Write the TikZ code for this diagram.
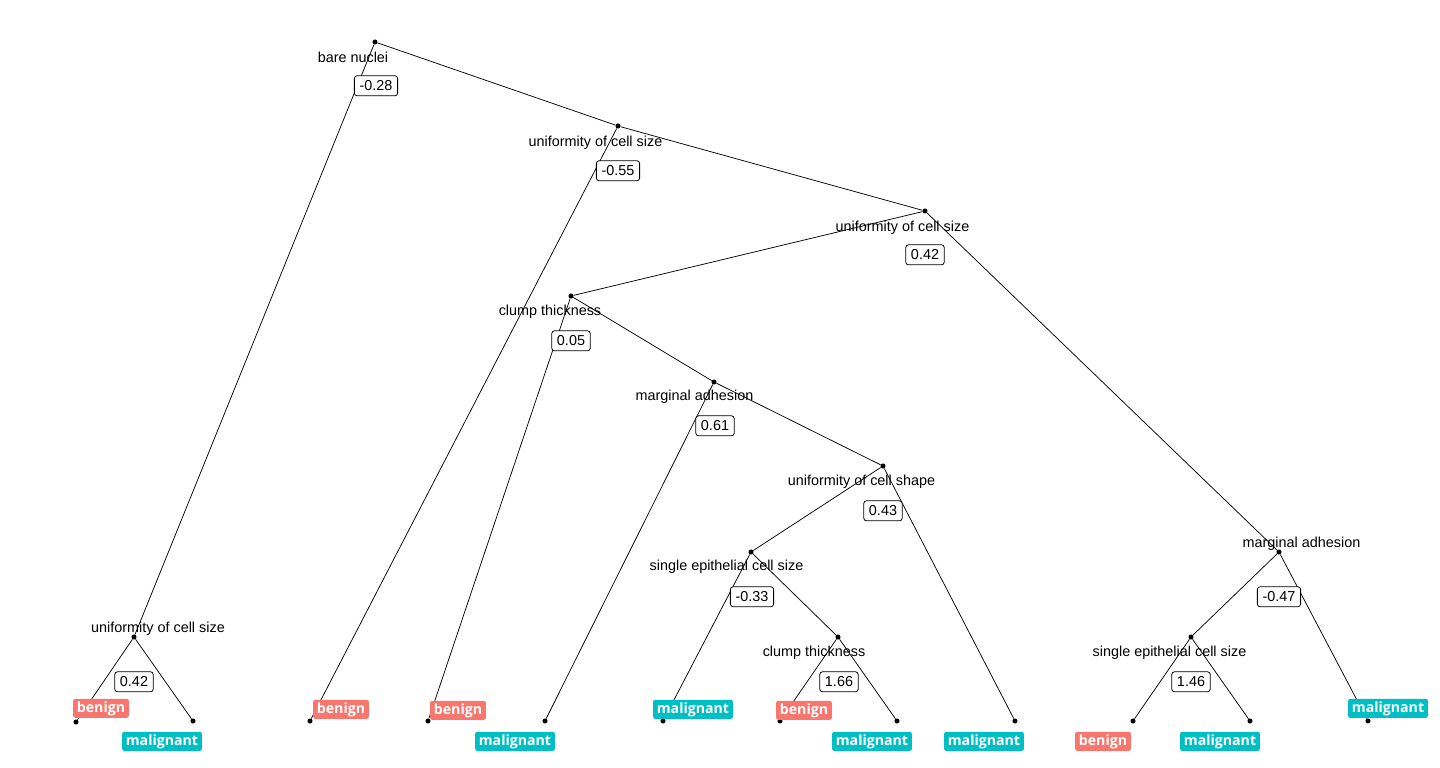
\documentclass[tikz,border=0pt]{standalone}
\usepackage{fontspec}
\setmainfont{Liberation Sans}
\newfontfamily\leaffont{Open Sans}
\usetikzlibrary{positioning}

\definecolor{benigncol}{HTML}{F8766D}
\definecolor{maligncol}{HTML}{00BFC4}

\begin{document}
\begin{tikzpicture}[
    x=0.75pt, y=-0.75pt,
    joint/.style={circle, fill=black, inner sep=0pt, minimum size=3.8pt},
    branch/.style={line width=0.55pt},
    splitlab/.style={inner sep=0pt, yshift=-1.3pt, font=\fontsize{10.8}{12}\selectfont},
    valbox/.style={rectangle, draw, fill=white, rounded corners=2pt, line width=0.6pt, inner xsep=3.9pt, inner ysep=0pt, minimum height=15pt, yshift=-0.6pt, font=\fontsize{10.8}{12}\selectfont},
    leaf/.style={rectangle, rounded corners=1.5pt, inner xsep=2.8pt, inner ysep=0pt, minimum height=14.2pt, yshift=-1pt, text=white, font=\leaffont\bfseries\fontsize{10.6}{12}\selectfont},
    benign/.style={leaf, fill=benigncol},
    malign/.style={leaf, fill=maligncol}
]
\useasboundingbox (0,0) rectangle (1440,768);

% split points
\node[joint] (n1) at (375,42) {};
\node[joint] (n2) at (618,126) {};
\node[joint] (n3) at (925,211) {};
\node[joint] (n4) at (571,296) {};
\node[joint] (n5) at (714,382) {};
\node[joint] (n6) at (883,466) {};
\node[joint] (n7) at (751,552) {};
\node[joint] (n8) at (838,637) {};
\node[joint] (n9) at (1279,552) {};
\node[joint] (n10) at (1191,637) {};
\node[joint] (n11) at (134,637) {};

% leaves
\node[joint] (l1) at (76,722) {};
\node[joint] (l2) at (193,721) {};
\node[joint] (l3) at (310,721) {};
\node[joint] (l4) at (428,721) {};
\node[joint] (l5) at (545,721) {};
\node[joint] (l6) at (663,721) {};
\node[joint] (l7) at (780,721) {};
\node[joint] (l8) at (897,721) {};
\node[joint] (l9) at (1015,721) {};
\node[joint] (l10) at (1133,721) {};
\node[joint] (l11) at (1250,721) {};
\node[joint] (l12) at (1368,721) {};

% branches
\draw[branch] (n1) -- (n11);
\draw[branch] (n1) -- (n2);
\draw[branch] (n2) -- (l3);
\draw[branch] (n2) -- (n3);
\draw[branch] (n3) -- (n4);
\draw[branch] (n3) -- (n9);
\draw[branch] (n4) -- (l4);
\draw[branch] (n4) -- (n5);
\draw[branch] (n5) -- (l5);
\draw[branch] (n5) -- (n6);
\draw[branch] (n6) -- (n7);
\draw[branch] (n6) -- (l9);
\draw[branch] (n7) -- (l6);
\draw[branch] (n7) -- (n8);
\draw[branch] (n8) -- (l7);
\draw[branch] (n8) -- (l8);
\draw[branch] (n9) -- (n10);
\draw[branch] (n9) -- (l12);
\draw[branch] (n10) -- (l10);
\draw[branch] (n10) -- (l11);
\draw[branch] (n11) -- (l1);
\draw[branch] (n11) -- (l2);

% split variables
\node[splitlab] (n1lab) at ([shift={(-22,14)}]n1) {bare nuclei};
\node[splitlab] (n2lab) at ([shift={(-22.5,15)}]n2) {uniformity of cell size};
\node[splitlab] (n3lab) at ([shift={(-22.5,15)}]n3) {uniformity of cell size};
\node[splitlab] (n4lab) at ([shift={(-21,14)}]n4) {clump thickness};
\node[splitlab] (n5lab) at ([shift={(-19.5,13)}]n5) {marginal adhesion};
\node[splitlab] (n6lab) at ([shift={(-21.5,14)}]n6) {uniformity of cell shape};
\node[splitlab] (n7lab) at ([shift={(-24.5,13)}]n7) {single epithelial cell size};
\node[splitlab] (n8lab) at ([shift={(-24,14)}]n8) {clump thickness};
\node[splitlab] (n9lab) at ([shift={(22.5,-10)}]n9) {marginal adhesion};
\node[splitlab] (n10lab) at ([shift={(-21.5,14)}]n10) {single epithelial cell size};
\node[splitlab] (n11lab) at ([shift={(24,-10)}]n11) {uniformity of cell size};

% split values
\node[valbox] (n1val) at ([shift={(1,43)}]n1) {-0.28};
\node[valbox] (n2val) at ([shift={(0,44)}]n2) {-0.55};
\node[valbox] (n3val) at ([shift={(0,43)}]n3) {0.42};
\node[valbox] (n4val) at ([shift={(0,44)}]n4) {0.05};
\node[valbox] (n5val) at ([shift={(1,43)}]n5) {0.61};
\node[valbox] (n6val) at ([shift={(0,44)}]n6) {0.43};
\node[valbox] (n7val) at ([shift={(1,44)}]n7) {-0.33};
\node[valbox] (n8val) at ([shift={(1,44)}]n8) {1.66};
\node[valbox] (n9val) at ([shift={(0,44)}]n9) {-0.47};
\node[valbox] (n10val) at ([shift={(0,44)}]n10) {1.46};
\node[valbox] (n11val) at ([shift={(0,44)}]n11) {0.42};

% classes
\node[benign] (l1lab) at ([shift={(25,-15)}]l1) {benign};
\node[malign] (l2lab) at ([shift={(-31,19)}]l2) {malignant};
\node[benign] (l3lab) at ([shift={(31,-13)}]l3) {benign};
\node[benign] (l4lab) at ([shift={(30,-12)}]l4) {benign};
\node[malign] (l5lab) at ([shift={(-30,19)}]l5) {malignant};
\node[malign] (l6lab) at ([shift={(30,-13)}]l6) {malignant};
\node[benign] (l7lab) at ([shift={(24,-12)}]l7) {benign};
\node[malign] (l8lab) at ([shift={(-25,19)}]l8) {malignant};
\node[malign] (l9lab) at ([shift={(-31,19)}]l9) {malignant};
\node[benign] (l10lab) at ([shift={(-30,19)}]l10) {benign};
\node[malign] (l11lab) at ([shift={(-30,19)}]l11) {malignant};
\node[malign] (l12lab) at ([shift={(20,-14)}]l12) {malignant};
\end{tikzpicture}
\end{document}
